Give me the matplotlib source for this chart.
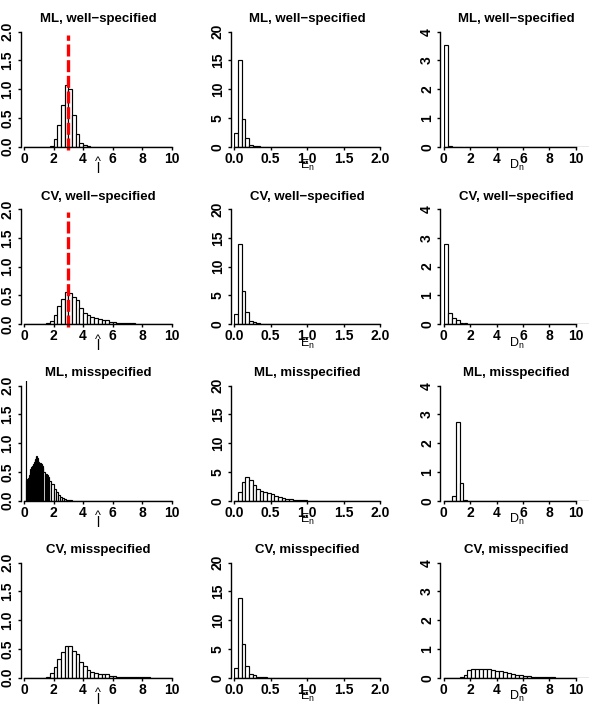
import numpy as np
import matplotlib
matplotlib.use('Agg')
from matplotlib import pyplot as plt
from matplotlib.transforms import offset_copy

plt.rcParams['font.family'] = ['Liberation Sans', 'DejaVu Sans']
plt.rcParams['mathtext.fontset'] = 'custom'
plt.rcParams['mathtext.rm'] = 'Liberation Sans'
plt.rcParams['mathtext.it'] = 'Liberation Sans:italic'
plt.rcParams['mathtext.bf'] = 'Liberation Sans:bold'

row_titles = ['ML, well\u2212specified', 'CV, well\u2212specified',
              'ML, misspecified', 'CV, misspecified']
true_l = 3.0

# column 1: l-hat, density, bins of 0.25 on [0, 10]
l_width = 0.25
l_ml_well_start = 1.75
l_ml_well = [0.02, 0.14, 0.38, 0.72, 1.07, 1.01, 0.56, 0.22, 0.07, 0.03, 0.01]
l_cv_well_start = 1.25
l_cv_well = [0.005, 0.02, 0.05, 0.16, 0.31, 0.44, 0.56, 0.54, 0.47, 0.41, 0.28,
             0.20, 0.15, 0.13, 0.11, 0.08, 0.07, 0.07, 0.04, 0.03, 0.02, 0.02,
             0.015, 0.01, 0.01, 0.008, 0.006, 0.005, 0.004]
l_cv_mis_start = 1.5
l_cv_mis = [0.02, 0.08, 0.18, 0.32, 0.44, 0.55, 0.55, 0.47, 0.42, 0.28, 0.21,
            0.14, 0.10, 0.09, 0.07, 0.07, 0.06, 0.03, 0.03, 0.02, 0.02, 0.015,
            0.01, 0.01, 0.008, 0.006, 0.005, 0.005]
# ML misspecified uses finer bins near zero
l_ml_mis_fine_start, l_ml_mis_fine_width = 0.12, 0.04
l_ml_mis_fine = [2.6, 0.36, 0.37, 0.38, 0.40, 0.42, 0.45, 0.50, 0.55, 0.58,
                 0.60, 0.61, 0.62, 0.64, 0.67, 0.70, 0.72, 0.76, 0.78, 0.74,
                 0.69, 0.67, 0.66, 0.66, 0.65, 0.66, 0.64, 0.62, 0.60, 0.57]
l_ml_mis_mid_width = 0.08
l_ml_mis_mid = [0.50, 0.46, 0.46, 0.45, 0.42]
l_ml_mis_tail_width = 0.14
l_ml_mis_tail = [0.35, 0.29, 0.21, 0.15, 0.10, 0.06, 0.04, 0.025, 0.015,
                 0.01, 0.006]

# column 2: E_n, bins of 0.05 on [0, 2]
e_width = 0.05
e_ml_well = [2.4, 15.1, 4.9, 1.5, 0.3, 0.1, 0.05]
e_cv_well = [1.7, 13.9, 5.8, 2.1, 0.5, 0.3, 0.1, 0.05]
e_ml_mis = [0.0, 1.5, 3.3, 4.1, 3.6, 2.8, 2.0, 1.7, 1.5, 1.3, 1.1, 0.8, 0.7,
            0.5, 0.35, 0.25, 0.18, 0.12, 0.08, 0.05, 0.03, 0.02, 0.01]
e_cv_mis = [1.7, 13.9, 5.8, 2.1, 0.6, 0.4, 0.2, 0.1, 0.05]

# column 3: D_n, bins of 0.3 on [0, 11.1]
d_width = 0.3
d_ml_well_start = 0.0
d_ml_well = [3.55, 0.02]
d_cv_well_start = 0.0
d_cv_well = [2.8, 0.38, 0.22, 0.13, 0.05, 0.02]
d_ml_mis_start = 0.6
d_ml_mis = [0.15, 2.73, 0.63, 0.03]
d_cv_mis_start = 1.2
d_cv_mis = [0.02, 0.10, 0.27, 0.30, 0.32, 0.32, 0.31, 0.30, 0.27, 0.24, 0.22,
            0.19, 0.16, 0.12, 0.10, 0.09, 0.07, 0.05, 0.04, 0.03, 0.02, 0.015,
            0.01, 0.008, 0.006, 0.005, 0.004, 0.003, 0.002]


def uniform_bins(start, width, heights, end):
    n_total = int(round(end / width))
    full = np.zeros(n_total)
    i0 = int(round(start / width))
    full[i0:i0 + len(heights)] = heights
    edges = width * np.arange(n_total + 1)
    return edges, full


def ml_mis_bins():
    e1 = l_ml_mis_fine_start + l_ml_mis_fine_width * np.arange(len(l_ml_mis_fine) + 1)
    e2 = e1[-1] + l_ml_mis_mid_width * np.arange(1, len(l_ml_mis_mid) + 1)
    e3 = e2[-1] + l_ml_mis_tail_width * np.arange(1, len(l_ml_mis_tail) + 1)
    edges = np.concatenate([[0.0], e1, e2, e3, [10.0]])
    heights = np.concatenate([[0.0], l_ml_mis_fine, l_ml_mis_mid, l_ml_mis_tail, [0.0]])
    return edges, heights


panels = [
    [uniform_bins(l_ml_well_start, l_width, l_ml_well, 10),
     uniform_bins(0, e_width, e_ml_well, 2.0),
     uniform_bins(d_ml_well_start, d_width, d_ml_well, 11.1)],
    [uniform_bins(l_cv_well_start, l_width, l_cv_well, 10),
     uniform_bins(0, e_width, e_cv_well, 2.0),
     uniform_bins(d_cv_well_start, d_width, d_cv_well, 11.1)],
    [ml_mis_bins(),
     uniform_bins(0, e_width, e_ml_mis, 2.0),
     uniform_bins(d_ml_mis_start, d_width, d_ml_mis, 11.1)],
    [uniform_bins(l_cv_mis_start, l_width, l_cv_mis, 10),
     uniform_bins(0, e_width, e_cv_mis, 2.0),
     uniform_bins(d_cv_mis_start, d_width, d_cv_mis, 11.1)],
]

# per-column axis setup
xlims = [(0, 10), (0, 2.0), (0, 11)]
xaxis_end = [10, 2.0, 10]
xticks = [np.arange(0, 11, 2), np.arange(0, 2.01, 0.5), np.arange(0, 11, 2)]
xticklabels = [[str(v) for v in range(0, 11, 2)],
               ['0.0', '0.5', '1.0', '1.5', '2.0'],
               [str(v) for v in range(0, 11, 2)]]
ymax = [2.0, 20, 4]
yticks = [[0, 0.5, 1.0, 1.5, 2.0], [0, 5, 10, 15, 20], [0, 1, 2, 3, 4]]
yticklabels = [['0.0', '0.5', '1.0', '1.5', '2.0'],
               ['0', '5', '10', '15', '20'],
               ['0', '1', '2', '3', '4']]
xlabels = [None, r'$\mathrm{E}_\mathrm{n}$', r'$\mathrm{D}_\mathrm{n}$']

W, H = 597, 707
fig = plt.figure(figsize=(W / 100, H / 100), dpi=100)

col_x0 = [24, 234.3, 443.7]
col_w = [147.7, 145.6, 145.2]
row_y0 = [146.7, 324.0, 500.7, 677.7]
ax_h = 119.6

for r in range(4):
    for c in range(3):
        ax = fig.add_axes([col_x0[c] / W, 1 - row_y0[r] / H, col_w[c] / W, ax_h / H])
        edges, heights = panels[r][c]
        ax.bar(edges[:-1], heights, width=np.diff(edges), align='edge',
               color='white', edgecolor='black', linewidth=0.85)
        if c == 0 and r < 2:
            ax.axvline(true_l, ymin=-0.028, ymax=0.934, color='red', linewidth=2.4,
                       dashes=(3.6, 1.1), clip_on=False)
        ax.set_xlim(*xlims[c])
        ax.set_ylim(0, ymax[c] * 1.04)
        ax.spines['top'].set_visible(False)
        ax.spines['right'].set_visible(False)
        ax.spines['left'].set_position(('outward', 2.5))
        ax.spines['left'].set_bounds(0, ymax[c])
        ax.spines['bottom'].set_bounds(0, xaxis_end[c])
        for s in ('left', 'bottom'):
            ax.spines[s].set_linewidth(1.0)
        ax.set_xticks(xticks[c])
        ax.set_xticklabels(xticklabels[c], fontsize=10, fontweight='bold')
        ax.set_yticks(yticks[c])
        ax.set_yticklabels(yticklabels[c], fontsize=10, fontweight='bold',
                           rotation=90, va='center')
        ax.tick_params(axis='x', length=2.2, width=1.0, pad=1.5)
        ax.tick_params(axis='y', length=2.2, width=1.0, pad=2.2)
        ax.set_title(row_titles[r], fontsize=9.5, fontweight='bold', pad=3.5)
        if c == 0:
            # hat(l): a caret sitting above an upright l
            t_hat = offset_copy(ax.transAxes, fig=fig, x=0, y=-9.5, units='dots')
            ax.text(0.5, 0, '^', transform=t_hat, ha='center', va='top', fontsize=9)
            t_l = offset_copy(ax.transAxes, fig=fig, x=0, y=-15.0, units='dots')
            ax.text(0.5, 0, 'l', transform=t_l, ha='center', va='top', fontsize=10)
        else:
            trans = offset_copy(ax.transAxes, fig=fig, x=0, y=-11.5, units='dots')
            ax.text(0.5, 0, xlabels[c], transform=trans, ha='center', va='top',
                    fontsize=9)

fig.savefig('out.png', dpi=100)
